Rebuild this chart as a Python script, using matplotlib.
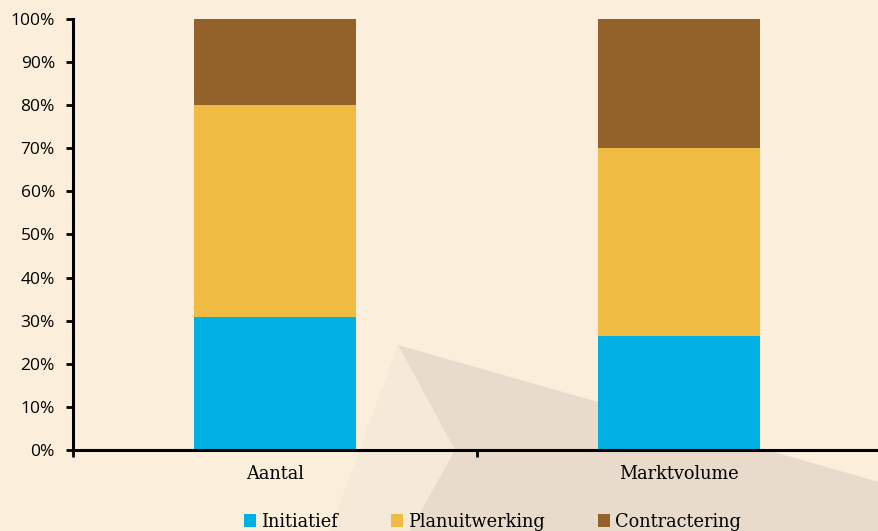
import matplotlib.pyplot as plt
from matplotlib.patches import Polygon
from matplotlib.ticker import FixedLocator, PercentFormatter

categories = ['Aantal', 'Marktvolume']
series = ['Initiatief', 'Planuitwerking', 'Contractering']
initiatief = [30.9, 26.5]
planuitwerking = [49.1, 43.5]
contractering = [20.0, 30.0]

colors = ['#00B0E3', '#EFBB43', '#93622B']
bg = '#FBEFDC'

fig = plt.figure(figsize=(8.79, 5.31), dpi=100, facecolor=bg)

# faint decorative shape in the background
W, H = 879, 531
def fpts(pts):
    return [(x / W, 1 - y / H) for x, y in pts]

fig.add_artist(Polygon(fpts([(398, 345), (330, 531), (410, 531), (455, 450)]),
                       closed=True, transform=fig.transFigure,
                       facecolor='#F5EAD8', edgecolor='none', zorder=-2))
fig.add_artist(Polygon(fpts([(398, 345), (879, 482), (879, 531), (410, 531), (455, 450)]),
                       closed=True, transform=fig.transFigure,
                       facecolor='#E8DBCB', edgecolor='none', zorder=-2))

ax = fig.add_axes([73 / W, 81 / H, 808 / W, 431 / H])
ax.set_facecolor('none')

x = list(range(len(categories)))
bottom = [0] * len(categories)
for name, vals, c in zip(series, [initiatief, planuitwerking, contractering], colors):
    ax.bar(x, vals, width=0.4, bottom=bottom, color=c, label=name, zorder=2)
    bottom = [b + v for b, v in zip(bottom, vals)]

ax.set_xlim(-0.5, 1.5)
ax.set_ylim(0, 100)
ax.set_yticks(range(0, 101, 10))
ax.yaxis.set_major_formatter(PercentFormatter(decimals=0))
ax.set_xticks(x)
ax.set_xticklabels(categories, family='DejaVu Serif', fontsize=12.8)
ax.xaxis.set_minor_locator(FixedLocator([-0.5, 0.5, 1.5]))
ax.tick_params(axis='x', which='major', length=0, pad=11)
ax.tick_params(axis='x', which='minor', length=5, width=2, direction='out')
ax.tick_params(axis='y', length=5, width=2, labelsize=12.5, pad=8)
for lab in ax.get_yticklabels():
    lab.set_family('Open Sans')

for side in ['top', 'right']:
    ax.spines[side].set_visible(False)
for side in ['left', 'bottom']:
    ax.spines[side].set_linewidth(2.2)
    ax.spines[side].set_zorder(3)

leg = fig.legend(loc='lower center', bbox_to_anchor=(0.56, -0.03), ncol=3,
                 frameon=False, handlelength=0.7, handleheight=0.7,
                 handletextpad=0.25, columnspacing=3.0,
                 prop={'family': 'DejaVu Serif', 'size': 12.8})

fig.savefig('out.png', dpi=100, facecolor=bg)
